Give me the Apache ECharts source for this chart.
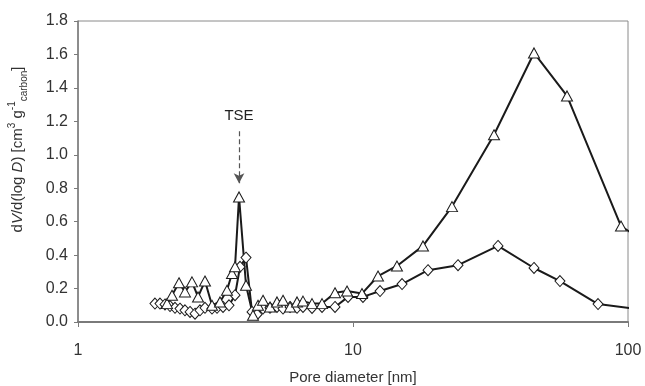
<!DOCTYPE html>
<html>
<head>
<meta charset="utf-8">
<script src="https://cdn.jsdelivr.net/npm/echarts@6/dist/echarts.min.js"></script>
<style>html,body{margin:0;padding:0;background:#fff}#c{width:645px;height:386px}</style>
</head>
<body>
<div id="c"></div>
<script>
// Pore diameters (nm) and dV/d(log D) values
const diamondX = [1.905,1.987,2.072,2.161,2.253,2.349,2.449,2.555,2.664,2.777,2.896,3.071,3.203,3.368,3.541,3.724,3.883,4.083,4.293,4.477,4.708,4.991,5.292,5.566,5.902,6.258,6.579,7.095,7.716,8.602,9.592,10.87,12.54,15.08,18.74,24.09,33.68,45.52,56.57,77.81,130];
const diamondY = [0.11,0.11,0.105,0.095,0.085,0.08,0.07,0.06,0.05,0.07,0.085,0.08,0.085,0.09,0.10,0.16,0.33,0.385,0.06,0.045,0.08,0.085,0.09,0.08,0.09,0.085,0.09,0.084,0.09,0.09,0.15,0.15,0.185,0.227,0.31,0.34,0.455,0.323,0.245,0.107,0.06];
const triangleX = [2.107,2.197,2.330,2.449,2.597,2.732,2.896,3.071,3.284,3.482,3.631,3.724,3.851,4.083,4.329,4.514,4.708,4.991,5.292,5.566,5.902,6.258,6.579,7.095,7.716,8.602,9.511,10.78,12.33,14.45,17.97,22.91,32.57,45.52,60.01,94.30,130];
const triangleY = [0.11,0.16,0.235,0.18,0.24,0.15,0.245,0.10,0.12,0.19,0.29,0.33,0.748,0.22,0.04,0.10,0.13,0.09,0.12,0.13,0.09,0.12,0.125,0.11,0.11,0.175,0.185,0.17,0.275,0.335,0.455,0.69,1.12,1.609,1.352,0.574,0.42];
const xTicks = [1, 10, 100];
const yMin = 0, yMax = 1.8, yStep = 0.2;
const annotationX = 3.851, annotationTop = 1.14, annotationTip = 0.83;

const pair = (xs, ys) => xs.map((x, i) => [x, ys[i]]);

const chart = echarts.init(document.getElementById('c'), null, {renderer: 'canvas'});
const font = 'Liberation Sans, Arial, sans-serif';
chart.setOption({
  animation: false,
  backgroundColor: '#fff',
  grid: {left: 78, right: 17, top: 21, bottom: 64, containLabel: false, outerBoundsMode: 'none',
    show: true, borderColor: '#8a8a8a', borderWidth: 1},
  xAxis: {
    type: 'log', logBase: 10, min: 1, max: 100,
    axisLine: {show: true, onZero: false, lineStyle: {color: '#7a7a7a', width: 2}},
    axisTick: {show: true, length: 5, lineStyle: {color: '#7a7a7a'}},
    minorTick: {show: false},
    splitLine: {show: false},
    axisLabel: {fontFamily: font, fontSize: 16, color: '#333', margin: 21,
      formatter: v => xTicks.includes(Math.round(v)) ? String(Math.round(v)) : ''},
    name: 'Pore diameter [nm]', nameLocation: 'middle', nameGap: 48,
    nameTextStyle: {fontFamily: font, fontSize: 15, color: '#333'}
  },
  yAxis: {
    type: 'value', min: yMin, max: yMax, interval: yStep,
    axisLine: {show: true, lineStyle: {color: '#7a7a7a', width: 1.5}},
    axisTick: {show: true, length: 4, lineStyle: {color: '#7a7a7a'}},
    splitLine: {show: false},
    axisLabel: {fontFamily: font, fontSize: 16, color: '#333', margin: 10, formatter: v => v.toFixed(1)},
    name: '{n|d}{i|V}{n|/d(log }{i|D}{n|) [cm}{sup|3}{n| g}{sup|-1}{sub|carbon}{n|]}',
    nameLocation: 'middle', nameGap: 49, nameRotate: 90,
    nameTextStyle: {
      fontFamily: font, fontSize: 15, color: '#333', padding: [0, 0, 0, 44],
      rich: {
        n: {fontFamily: font, fontSize: 15, color: '#333', lineHeight: 22},
        i: {fontFamily: font, fontSize: 15, color: '#333', fontStyle: 'italic', lineHeight: 22},
        sup: {fontFamily: font, fontSize: 10, color: '#333', verticalAlign: 'top', lineHeight: 22, padding: [0, 0, 8, 0]},
        sub: {fontFamily: font, fontSize: 10, color: '#333', verticalAlign: 'bottom', lineHeight: 22}
      }
    }
  },
  series: [
    {
      type: 'line', data: pair(diamondX, diamondY), clip: true,
      symbol: 'diamond', symbolSize: [10, 11], showAllSymbol: true,
      lineStyle: {color: '#1a1a1a', width: 2},
      itemStyle: {color: '#fff', borderColor: '#1a1a1a', borderWidth: 1}
    },
    {
      type: 'line', data: pair(triangleX, triangleY), clip: true,
      symbol: 'triangle', symbolSize: [11, 10], showAllSymbol: true,
      lineStyle: {color: '#1a1a1a', width: 2},
      itemStyle: {color: '#fff', borderColor: '#1a1a1a', borderWidth: 1},
      markLine: {
        silent: true, symbol: ['none', 'arrow'], symbolSize: [8, 10],
        lineStyle: {color: '#555', type: [5, 3], width: 1.2},
        label: {show: true, position: 'start', formatter: 'TSE', fontFamily: font, fontSize: 15, color: '#222', distance: 8},
        data: [[{coord: [annotationX, annotationTop]}, {coord: [annotationX, annotationTip]}]]
      }
    }
  ]
});
</script>
</body>
</html>
